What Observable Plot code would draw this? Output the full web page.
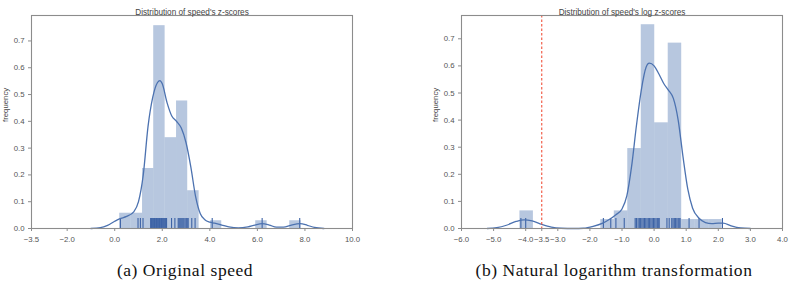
<!DOCTYPE html>
<html>
<head>
<meta charset="utf-8">
<script src="https://cdn.jsdelivr.net/npm/d3@7"></script>
<script src="https://cdn.jsdelivr.net/npm/@observablehq/plot@0.6"></script>
<style>
  html, body { margin: 0; padding: 0; background: #fff; }
  #wrap { position: relative; width: 789px; height: 288px; overflow: hidden; }
  .panel { position: absolute; top: 0; }
  .cap { position: absolute; top: 260px; font-family: "Liberation Serif", "DejaVu Serif", serif; font-size: 17.5px; letter-spacing: 0.55px; color: #111; white-space: nowrap; transform: translateX(-50%); }
</style>
</head>
<body>
<div id="wrap">
  <div id="left" class="panel" style="left:0px"></div>
  <div id="right" class="panel" style="left:395px"></div>
  <div class="cap" style="left:185px">(a) Original speed</div>
  <div class="cap" style="left:614px">(b) Natural logarithm transformation</div>
</div>
<script>
// ---------- Panel (a): original speed z-scores ----------
const speedTitle = "Distribution of speed's z-scores";
const speedTicks = [-3.5, -2.0, 0.0, 2.0, 4.0, 6.0, 8.0, 10.0];
const speedBinX1 = [0.21, 0.69, 1.17, 1.64, 2.12, 2.60, 3.07, 4.03, 5.93, 7.36];
const speedBinX2 = [0.69, 1.17, 1.64, 2.12, 2.60, 3.07, 3.55, 4.50, 6.41, 7.84];
const speedDensity = [0.057, 0.057, 0.224, 0.757, 0.339, 0.476, 0.141, 0.029, 0.029, 0.029];
const speedKdeX = [-1.0, -0.6, -0.3, 0.0, 0.2, 0.5, 0.8, 1.0, 1.2, 1.4, 1.6, 1.8, 1.9, 2.0, 2.2, 2.4, 2.6, 2.8, 3.0, 3.2, 3.4, 3.6, 3.8, 4.0, 4.2, 4.5, 4.8, 5.2, 5.6, 5.9, 6.2, 6.5, 6.8, 7.1, 7.4, 7.8, 8.1, 8.4, 8.8];
const speedKdeY = [0, 0.003, 0.012, 0.027, 0.036, 0.045, 0.062, 0.10, 0.20, 0.38, 0.49, 0.545, 0.552, 0.54, 0.47, 0.42, 0.40, 0.375, 0.32, 0.23, 0.12, 0.055, 0.032, 0.024, 0.02, 0.013, 0.006, 0.002, 0.006, 0.013, 0.018, 0.013, 0.005, 0.005, 0.012, 0.018, 0.012, 0.004, 0];
const speedRug = [0.24, 0.98, 1.08, 1.19, 1.51, 1.55, 1.58, 1.61, 1.64, 1.67, 1.70, 1.73, 1.76, 1.79, 1.82, 1.85, 1.88, 1.91, 1.94, 1.97, 2.00, 2.03, 2.06, 2.10, 2.14, 2.18, 2.39, 2.53, 2.67, 2.71, 2.75, 2.79, 2.83, 2.87, 2.91, 2.96, 3.01, 3.05, 3.09, 3.24, 3.38, 4.10, 6.20, 7.78];

// ---------- Panel (b): log speed z-scores ----------
const logTitle = "Distribution of speed's log z-scores";
const logTicks = [-6.0, -5.0, -4.0, -3.5, -3.0, -2.0, -1.0, 0.0, 1.0, 2.0, 3.0, 4.0];
const logBinX1 = [-4.18, -1.66, -1.24, -0.82, -0.40, 0.02, 0.44, 0.86, 1.28, 1.70];
const logBinX2 = [-3.76, -1.24, -0.82, -0.40, 0.02, 0.44, 0.86, 1.28, 1.70, 2.12];
const logDensity = [0.065, 0.033, 0.065, 0.295, 0.752, 0.39, 0.684, 0.033, 0.033, 0.033];
const logKdeX = [-5.2, -4.9, -4.6, -4.3, -4.05, -3.8, -3.5, -3.2, -2.9, -2.5, -2.2, -1.9, -1.6, -1.4, -1.2, -1.0, -0.85, -0.7, -0.55, -0.4, -0.25, -0.15, 0.0, 0.15, 0.3, 0.45, 0.6, 0.75, 0.9, 1.05, 1.2, 1.4, 1.6, 1.8, 2.0, 2.15, 2.4, 2.7, 3.0];
const logKdeY = [0, 0.003, 0.012, 0.026, 0.032, 0.028, 0.015, 0.005, 0.001, 0, 0.001, 0.008, 0.02, 0.033, 0.05, 0.072, 0.12, 0.23, 0.38, 0.51, 0.595, 0.61, 0.60, 0.57, 0.535, 0.51, 0.48, 0.40, 0.265, 0.145, 0.075, 0.038, 0.022, 0.018, 0.02, 0.02, 0.01, 0.002, 0];
const logRug = [-4.15, -4.00, -1.58, -1.35, -1.19, -0.93, -0.59, -0.55, -0.50, -0.46, -0.42, -0.38, -0.34, -0.30, -0.26, -0.22, -0.18, -0.14, -0.10, -0.06, -0.02, 0.02, 0.06, 0.10, 0.13, 0.16, 0.40, 0.47, 0.55, 0.59, 0.63, 0.67, 0.71, 0.75, 0.78, 0.81, 1.09, 1.40, 2.13];
const logCutoff = [-3.5];

const yTicks = [0, 0.1, 0.2, 0.3, 0.4, 0.5, 0.6, 0.7];
const yLabel = "frequency";

const BLUE = "#4c72b0";
const fmt = d3.format(".1f");

function panel({title, xTicks, xDomain, yMax, x1, x2, dens, kx, ky, rug, cutoff, width, mLeft, mRight}) {
  const bins = x1.map((v, i) => ({x1: v, x2: x2[i], y: dens[i]}));
  const kde = kx.map((v, i) => ({x: v, y: ky[i]}));
  const marks = [
    Plot.rectY(bins, {x1: "x1", x2: "x2", y: "y", fill: BLUE, fillOpacity: 0.4}),
    Plot.ruleX(rug, {y1: 0, y2: 0.037, stroke: "#3d63a6", strokeWidth: 1.1}),
    Plot.line(kde, {x: "x", y: "y", stroke: BLUE, strokeWidth: 1.3, curve: "monotone-x"})
  ];
  if (cutoff) marks.push(Plot.ruleX(cutoff, {stroke: "#f0503a", strokeWidth: 1.1, strokeDasharray: "2.5,2"}));
  marks.push(
    Plot.frame({stroke: "#8c8c8c", strokeWidth: 1.1}),
    Plot.axisX({ticks: xTicks, tickFormat: fmt, tickSize: 3, tickPadding: 5, stroke: "#8c8c8c", fill: "#555", label: null}),
    Plot.axisY({ticks: yTicks, tickFormat: fmt, tickSize: 3, tickPadding: 4, stroke: "#8c8c8c", fill: "#555", label: null}),
    Plot.text([title], {frameAnchor: "top", dy: -6, fill: "#444", fontSize: 8.2}),
    Plot.text([yLabel], {frameAnchor: "left", dx: -26.5, rotate: -90, fill: "#444", fontSize: 7.8})
  );
  return Plot.plot({
    width, height: 250,
    marginLeft: mLeft, marginRight: mRight, marginTop: 15, marginBottom: 22,
    x: {domain: xDomain},
    y: {domain: [0, yMax]},
    style: {fontFamily: "Liberation Sans, Arial, sans-serif", fontSize: "7.8px", background: "white", overflow: "visible"},
    marks
  });
}

document.getElementById("left").append(panel({
  title: speedTitle, xTicks: speedTicks, xDomain: [-3.5, 10], yMax: 0.795,
  x1: speedBinX1, x2: speedBinX2, dens: speedDensity, kx: speedKdeX, ky: speedKdeY, rug: speedRug,
  width: 395, mLeft: 31, mRight: 43
}));
document.getElementById("right").append(panel({
  title: logTitle, xTicks: logTicks, xDomain: [-6, 4], yMax: 0.786,
  x1: logBinX1, x2: logBinX2, dens: logDensity, kx: logKdeX, ky: logKdeY, rug: logRug, cutoff: logCutoff,
  width: 394, mLeft: 66, mRight: 7
}));
</script>
</body>
</html>
